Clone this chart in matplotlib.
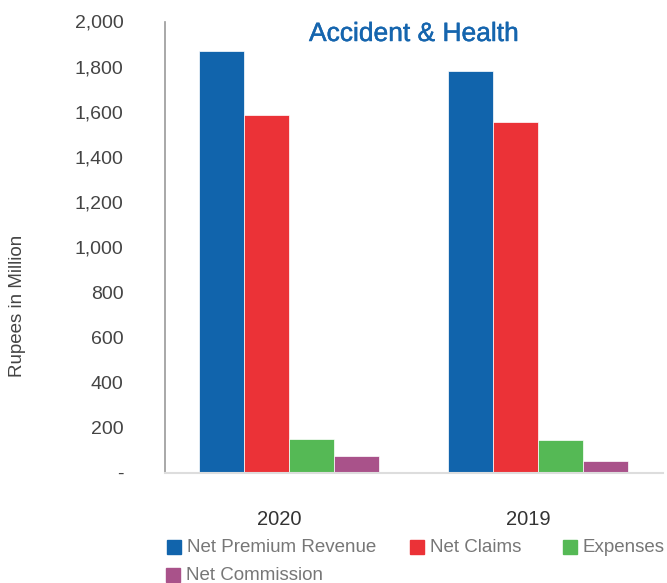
import matplotlib
matplotlib.use("Agg")
import matplotlib.pyplot as plt
import matplotlib.transforms as mtransforms
import matplotlib.patheffects as pe
from matplotlib.patches import Rectangle
import numpy as np

plt.rcParams['font.family'] = ['Liberation Sans', 'DejaVu Sans']

years = ["2020", "2019"]
series_names = ["Net Premium Revenue", "Net Claims", "Expenses", "Net Commission"]
net_premium_revenue = [1867, 1781]
net_claims = [1587, 1553]
expenses = [148, 146]
net_commission = [72, 53]
series_values = [net_premium_revenue, net_claims, expenses, net_commission]
colors = ["#1164ac", "#eb3237", "#55b955", "#a9528a"]
y_ticks = [0, 200, 400, 600, 800, 1000, 1200, 1400, 1600, 1800, 2000]
y_tick_labels = ["-", "200", "400", "600", "800", "1,000", "1,200", "1,400", "1,600", "1,800", "2,000"]

W, H = 667, 583
fig = plt.figure(figsize=(W / 100, H / 100), dpi=100)
ax = fig.add_axes([165 / W, 1 - 472.5 / H, (662.5 - 165) / W, (472.5 - 21.5) / H])

x = np.arange(len(years))
bw = 0.181
for i, (vals, c) in enumerate(zip(series_values, colors)):
    ax.bar(x + (i - 1.5) * bw, vals, width=bw, color=c, edgecolor='white', linewidth=0.5)

ax.set_xlim(-0.5, 1.5)
ax.set_ylim(0, 2000)
ax.set_yticks(y_ticks)
ax.set_yticklabels(y_tick_labels, fontsize=14, color='#444444')
ax.tick_params(axis='y', length=0, pad=30)
ax.set_xticks(x)
ax.set_xticklabels(years, fontsize=14.5, color='#333333')
ax.tick_params(axis='x', length=0, pad=27)
offset = mtransforms.ScaledTranslation(-10 / 100, 0, fig.dpi_scale_trans)
for lab in ax.get_xticklabels():
    lab.set_transform(lab.get_transform() + offset)

for s in ['top', 'right']:
    ax.spines[s].set_visible(False)
ax.spines['left'].set_color('#999999')
ax.spines['left'].set_linewidth(1.2)
ax.spines['bottom'].set_color('#dddddd')
ax.spines['bottom'].set_linewidth(1.5)

fig.text(18 / W, 1 - 306 / H, "Rupees in Million", rotation=90, fontsize=13.5,
         color='#444444', ha='center', va='center')
fig.text(414 / W, 1 - 34 / H, "Accident & Health", fontsize=19, color='#1565ae',
         ha='center', va='center',
         path_effects=[pe.withStroke(linewidth=0.35, foreground='#1565ae')])

# legend
leg_pos = [(167, 547), (410, 547), (563, 547), (166, 575)]
for name, c, (lx, ly) in zip(series_names, colors, leg_pos):
    fig.patches.append(Rectangle((lx / W, 1 - (ly + 7) / H), 14 / W, 14 / H,
                                 transform=fig.transFigure, color=c, figure=fig))
    fig.text((lx + 20) / W, 1 - ly / H, name, fontsize=13.5, color='#777777',
             ha='left', va='center')

fig.savefig("out.png", dpi=100)
